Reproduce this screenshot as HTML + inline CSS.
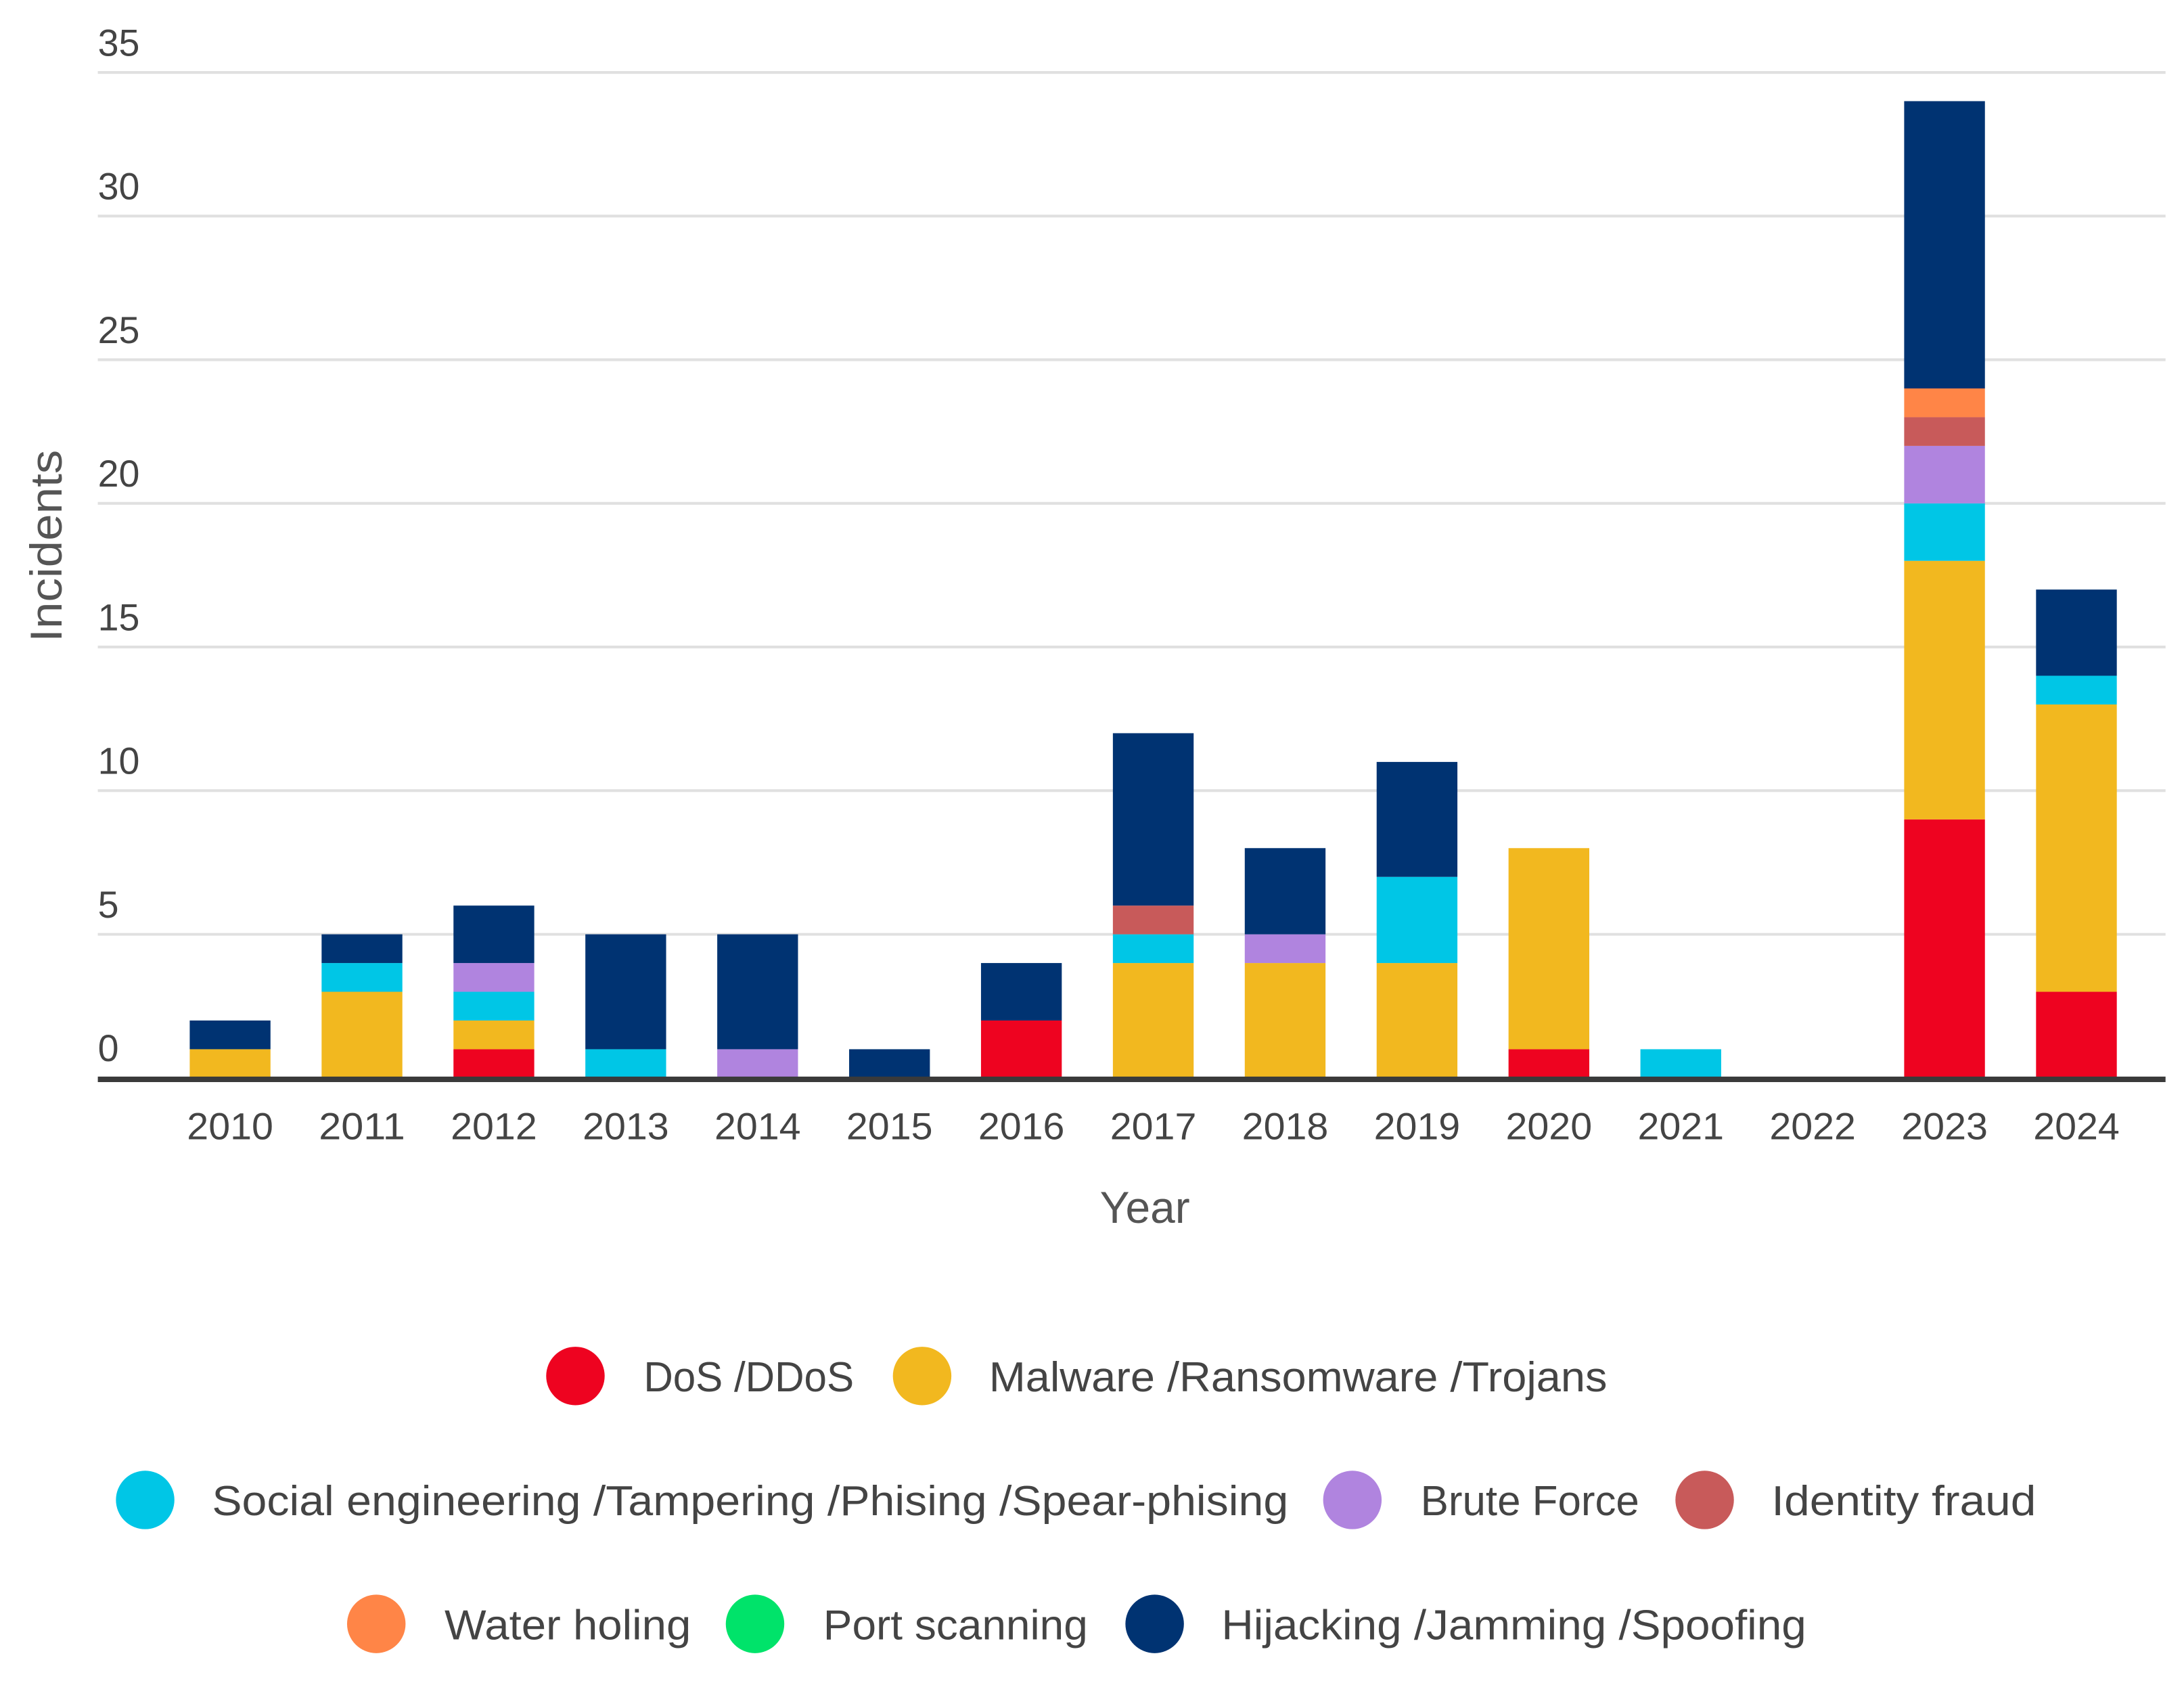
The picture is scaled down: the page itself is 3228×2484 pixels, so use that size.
<!DOCTYPE html>
<html><head><meta charset="utf-8"><style>
html,body{margin:0;padding:0;background:#fff;}
svg{display:block;font-family:"Liberation Sans",sans-serif;}
</style></head><body>
<svg id="chart" width="3228" height="2484" viewBox="0 0 1568 1207" xmlns="http://www.w3.org/2000/svg">
<g id="grid"></g>
<g id="bars"></g>
<g id="axes"></g>
<g id="legend"></g>
</svg>
<script>
const years = ["2010","2011","2012","2013","2014","2015","2016","2017","2018","2019","2020","2021","2022","2023","2024"];
const seriesNames = ["DoS /DDoS","Malware /Ransomware /Trojans","Social engineering /Tampering /Phising /Spear-phising","Brute Force","Identity fraud","Water holing","Port scanning","Hijacking /Jamming /Spoofing"];
const seriesColors = ["#ee0320","#f2b81f","#00c6e6","#b084df","#c85a5a","#ff8547","#00e36a","#003372"];
const dos      = [0,0,1,0,0,0,2,0,0,0,1,0,0,9,3];
const malware  = [1,3,1,0,0,0,0,4,4,4,7,0,0,9,10];
const social   = [0,1,1,1,0,0,0,1,0,3,0,1,0,2,1];
const brute    = [0,0,1,0,1,0,0,0,1,0,0,0,0,2,0];
const identity = [0,0,0,0,0,0,0,1,0,0,0,0,0,1,0];
const water    = [0,0,0,0,0,0,0,0,0,0,0,0,0,1,0];
const port     = [0,0,0,0,0,0,0,0,0,0,0,0,0,0,0];
const hijack   = [1,1,2,4,4,1,2,6,3,4,0,0,0,10,3];
const yTicks = [0,5,10,15,20,25,30,35];

const NS="http://www.w3.org/2000/svg";
const series=[dos,malware,social,brute,identity,water,port,hijack];
const plotL=70, plotR=1555, y0=774, yTop=52, yMax=35;
const yS=v=>y0-(v/yMax)*(y0-yTop);
const x0=165, step=(1491-165)/(years.length-1), bw=58;
const xS=i=>x0+i*step;
function mk(tag,attrs,parent,text){const e=document.createElementNS(NS,tag);for(const k in attrs)e.setAttribute(k,attrs[k]);if(text!==undefined)e.textContent=text;parent.appendChild(e);return e;}
const grid=document.getElementById('grid'),bars=document.getElementById('bars'),axes=document.getElementById('axes'),legend=document.getElementById('legend');
yTicks.forEach(t=>{
  if(t>0){const l=mk('line',{x1:plotL,x2:plotR,y1:yS(t),y2:yS(t),stroke:'#e0e0e0','stroke-width':2},grid);
  
  }
  const tx=mk('text',{x:70,y:yS(t)-12,'font-size':27,fill:'#444'},axes,String(t));
  
  
});
years.forEach((yr,i)=>{
  let acc=0;
  series.forEach((s,si)=>{
    const v=s[i]; if(!v)return;
    const r=mk('rect',{x:xS(i)-bw/2,y:yS(acc+v),width:bw,height:yS(acc)-yS(acc+v),fill:seriesColors[si]},bars);
    
    
    acc+=v;
  });
  const tx=mk('text',{x:xS(i),y:818,'font-size':27,fill:'#444','text-anchor':'middle',textLength:62,lengthAdjust:'spacingAndGlyphs'},axes,yr);
  
  
});
const ax=mk('line',{x1:plotL,x2:plotR,y1:y0+1,y2:y0+1,stroke:'#3a3a3a','stroke-width':4},axes);


const xt=mk('text',{x:822,y:878,'font-size':32,fill:'#555','text-anchor':'middle'},axes,'Year');


const yt=mk('text',{x:0,y:0,'font-size':32,fill:'#555','text-anchor':'middle',transform:'translate(44,392) rotate(-90)',textLength:138,lengthAdjust:'spacingAndGlyphs'},axes,'Incidents');


const legPos=[[413,988,462,613],[662,988,710,1154],[104,1077,152,925],[971,1077,1020,1177],[1224,1077,1272,1462],[270,1166,319,496],[542,1166,591,781],[829,1166,877,1297]];
seriesNames.forEach((n,i)=>{
  const p=legPos[i];
  const g=mk('g',{},legend);
  
  
  mk('circle',{cx:p[0],cy:p[1],r:21,fill:seriesColors[i]},g);
  mk('text',{x:p[2],y:p[1]+11,'font-size':30,fill:'#444',textLength:p[3]-p[2],lengthAdjust:'spacingAndGlyphs'},g,n);
});
</script>
</body></html>
